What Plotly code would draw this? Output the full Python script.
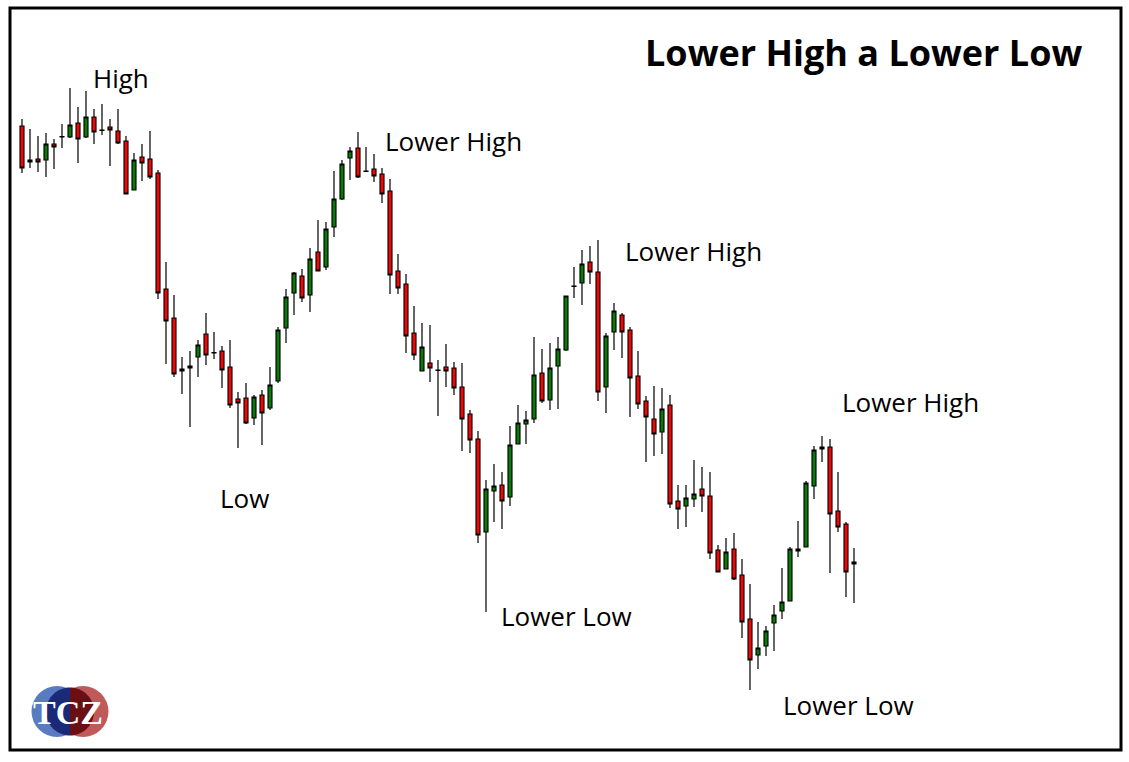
import numpy as np
import plotly.graph_objects as go

# ---- data (price units) ----
bar_index = list(range(1, 106))
open_ = [674, 638, 641, 640, 656, 663, 663, 677, 663, 683, 670, 673, 669, 659, 610, 643, 641, 627, 511, 482,
         431, 432, 443, 466, 447.5, 449, 433, 401, 402, 382, 405, 392, 419, 472, 507, 524, 505, 548, 533, 573,
         601, 642, 652, 629, 631, 626, 609, 529, 516, 467, 429, 437, 430, 433, 432, 413, 386, 361, 268, 309,
         315, 303, 356, 376, 381, 427, 400, 434, 450, 514, 517, 538, 528, 413, 468, 485, 470, 424, 399, 381,
         368, 395, 299, 294, 301, 311, 304, 250, 231, 251, 225, 181, 145, 154, 177, 189, 199, 251, 253, 314,
         351, 353, 289, 276, 236]
high = [681, 671, 664, 667, 661, 676, 712, 693, 709, 691, 696, 681, 691, 664, 647, 656, 669, 630, 538, 505,
        443, 449, 460, 487, 468, 454, 460, 408, 417, 405, 410, 433, 473, 511, 528, 531, 552, 580, 578, 629,
        640, 653, 668, 653, 646, 632, 621, 546, 526, 494, 477, 475, 440, 456, 438, 437, 390, 369, 320, 336,
        328, 374, 395, 389, 463, 451, 457, 463, 504, 533, 550, 554, 560, 467, 497, 487, 473, 449, 404, 414,
        412, 405, 315, 315, 340, 333, 328, 255, 262, 267, 241, 216, 178, 174, 195, 232, 253, 279, 319, 354,
        364, 361, 328, 278, 252]
low = [627, 632, 628, 623, 631, 652, 662, 637, 662, 656, 665, 634, 656, 605.5, 609.5, 619, 621, 501, 436, 423,
       406, 373, 423, 435, 441, 412, 392, 352, 376, 375, 355, 390, 417, 457, 485, 498, 488, 528.5, 530, 563,
       600, 620, 622, 628, 618, 597, 506, 506, 447, 440, 428.5, 418, 384, 413, 405, 349, 347, 257, 188, 278,
       271, 294, 355.5, 356, 377, 397, 390, 391, 449, 502, 495, 516, 399, 387, 450, 442, 383, 391, 338, 344,
       346, 292, 271, 273, 293, 288, 241, 227.5, 230.5, 220, 162, 110, 131, 144, 149, 181, 198.5, 243, 252.5, 301,
       338, 227, 268, 203, 197]
close = [632, 640, 638, 656, 653, 663.5, 675, 661, 683, 668, 669.5, 670, 657, 606, 640, 637, 623, 507, 479, 426,
         429, 434, 455, 445, 447, 430, 395, 397, 377, 403, 387, 415, 470, 503, 527, 502, 541, 529, 571, 601,
         636, 649, 623, 628.5, 624, 606, 525, 512, 464, 445, 453, 432, 429.5, 429, 412, 381, 360, 265, 311, 314,
         299, 355, 377, 380, 425, 399, 432, 451, 504, 513.5, 536, 528, 408, 464, 489, 468, 422, 396, 383, 366,
         391, 296, 291, 302, 306, 304, 247, 228, 248, 221, 178, 140, 152, 169, 185, 198, 251, 249, 317, 350,
         353, 286, 273, 228, 238]

title_text = "Lower High a Lower Low"
labels = ["High", "Lower High", "Lower High", "Lower High", "Low", "Lower Low", "Lower Low"]
label_px = [(91, 78), (383, 141), (623, 251), (840, 402), (218, 498), (499, 616), (781, 705)]

W, H = 1129, 762


def px(x):
    return x / W


def py(y):
    return 1 - y / H


fig = go.Figure()
fig.add_trace(go.Candlestick(
    x=bar_index, open=open_, high=high, low=low, close=close,
    increasing=dict(line=dict(color="black", width=1.2), fillcolor="#008000"),
    decreasing=dict(line=dict(color="black", width=1.2), fillcolor="#ff0000"),
    whiskerwidth=0,
    hoverinfo="skip",
))

annotations = []
for t, (lx, ly) in zip(labels, label_px):
    annotations.append(dict(
        text=t, xref="paper", yref="paper", x=px(lx), y=py(ly),
        xanchor="left", yanchor="middle", showarrow=False,
        font=dict(family="Open Sans", size=26, color="black")))
annotations.append(dict(
    text="<b>" + title_text + "</b>", xref="paper", yref="paper", x=px(1084), y=py(53),
    xanchor="right", yanchor="middle", showarrow=False,
    font=dict(family="Open Sans", size=36, color="black")))
annotations.append(dict(
    text="<b>TCZ</b>", xref="paper", yref="paper", x=px(68), y=py(712),
    xanchor="center", yanchor="middle", showarrow=False,
    font=dict(family="Liberation Serif", size=34, color="white")))

shapes = [dict(type="rect", xref="paper", yref="paper",
               x0=px(10), x1=px(1121), y0=py(750), y1=py(8),
               line=dict(color="black", width=3), fillcolor="rgba(0,0,0,0)")]


def circle(cx, cy, r, color):
    return dict(type="circle", xref="paper", yref="paper",
                x0=px(cx - r), x1=px(cx + r), y0=py(cy + r), y1=py(cy - r),
                line=dict(width=0), fillcolor=color, layer="above")


def half(cx, cy, r, color, side):
    a = np.linspace(np.pi / 2, 3 * np.pi / 2, 40) if side == "left" else np.linspace(-np.pi / 2, np.pi / 2, 40)
    pts = [(px(cx + r * np.cos(t)), py(cy - r * np.sin(t))) for t in a]
    path = "M " + " L ".join(f"{x:.5f},{y:.5f}" for x, y in pts) + " Z"
    return dict(type="path", xref="paper", yref="paper", path=path,
                line=dict(width=0), fillcolor=color, layer="above")


shapes += [
    circle(57, 711.5, 25.5, "#5a7bc0"),
    circle(83, 711.5, 25.5, "#c05a5a"),
    half(70, 711.5, 24, "#1b2a78", "left"),
    half(70, 711.5, 24, "#6a0f14", "right"),
]

fig.update_layout(
    width=W, height=H,
    margin=dict(l=0, r=0, t=0, b=0),
    paper_bgcolor="white", plot_bgcolor="white",
    showlegend=False,
    xaxis=dict(visible=False, range=[-1.75, 139.375], rangeslider=dict(visible=False), fixedrange=True),
    yaxis=dict(visible=False, range=[38, 800], fixedrange=True),
    annotations=annotations,
    shapes=shapes,
)

fig.write_html("out.html", config={"displayModeBar": False})
